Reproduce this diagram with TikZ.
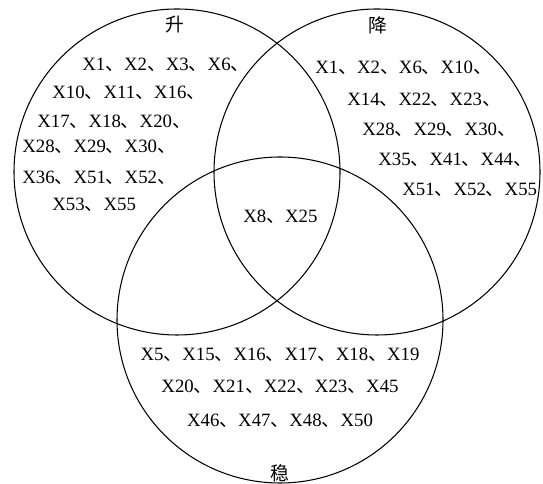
\documentclass[tikz,border=0pt]{standalone}
\usepackage{fontspec}
\setmainfont{Liberation Serif}
\newfontfamily\cjk{Noto Sans CJK SC}
\newcommand{\dun}{{\cjk 、}}
\begin{document}
\begin{tikzpicture}[line cap=round,line join=round,font=\fontsize{10.7}{13}\selectfont]
  \useasboundingbox (0,0) rectangle (10.86,9.68);
  \draw[line width=0.6pt] (3.54,6.24) circle (3.26);
  \draw[line width=0.6pt] (7.54,6.24) circle (3.26);
  \draw[line width=0.6pt] (5.60,3.28) circle (3.26);
  \node (sheng) at (3.50,9.18) {\cjk 升};
  \node (jiang) at (7.56,9.18) {\cjk 降};
  \node (wen) at (5.60,0.22) {\cjk 稳};
  % rising only
  \node[anchor=west,inner sep=0pt] (up1) at (1.64,8.38) {X1\dun X2\dun X3\dun X6\dun};
  \node[anchor=west,inner sep=0pt] (up2) at (1.04,7.82) {X10\dun X11\dun X16\dun};
  \node[anchor=west,inner sep=0pt] (up3) at (0.74,7.24) {X17\dun X18\dun X20\dun};
  \node[anchor=west,inner sep=0pt] (up4) at (0.44,6.74) {X28\dun X29\dun X30\dun};
  \node[anchor=west,inner sep=0pt] (up5) at (0.44,6.12) {X36\dun X51\dun X52\dun};
  \node[anchor=west,inner sep=0pt] (up6) at (1.04,5.58) {X53\dun X55};
  % falling only
  \node[anchor=west,inner sep=0pt] (dn1) at (6.30,8.32) {X1\dun X2\dun X6\dun X10\dun};
  \node[anchor=west,inner sep=0pt] (dn2) at (6.94,7.68) {X14\dun X22\dun X23\dun};
  \node[anchor=west,inner sep=0pt] (dn3) at (7.24,7.08) {X28\dun X29\dun X30\dun};
  \node[anchor=west,inner sep=0pt] (dn4) at (7.56,6.48) {X35\dun X41\dun X44\dun};
  \node[anchor=west,inner sep=0pt] (dn5) at (8.04,5.88) {X51\dun X52\dun X55};
  % common
  \node[anchor=west,inner sep=0pt] (mid) at (4.86,5.34) {X8\dun X25};
  % steady
  \node (st1) at (5.60,2.58) {X5\dun X15\dun X16\dun X17\dun X18\dun X19};
  \node (st2) at (5.60,1.94) {X20\dun X21\dun X22\dun X23\dun X45};
  \node (st3) at (5.60,1.26) {X46\dun X47\dun X48\dun X50};
\end{tikzpicture}
\end{document}
